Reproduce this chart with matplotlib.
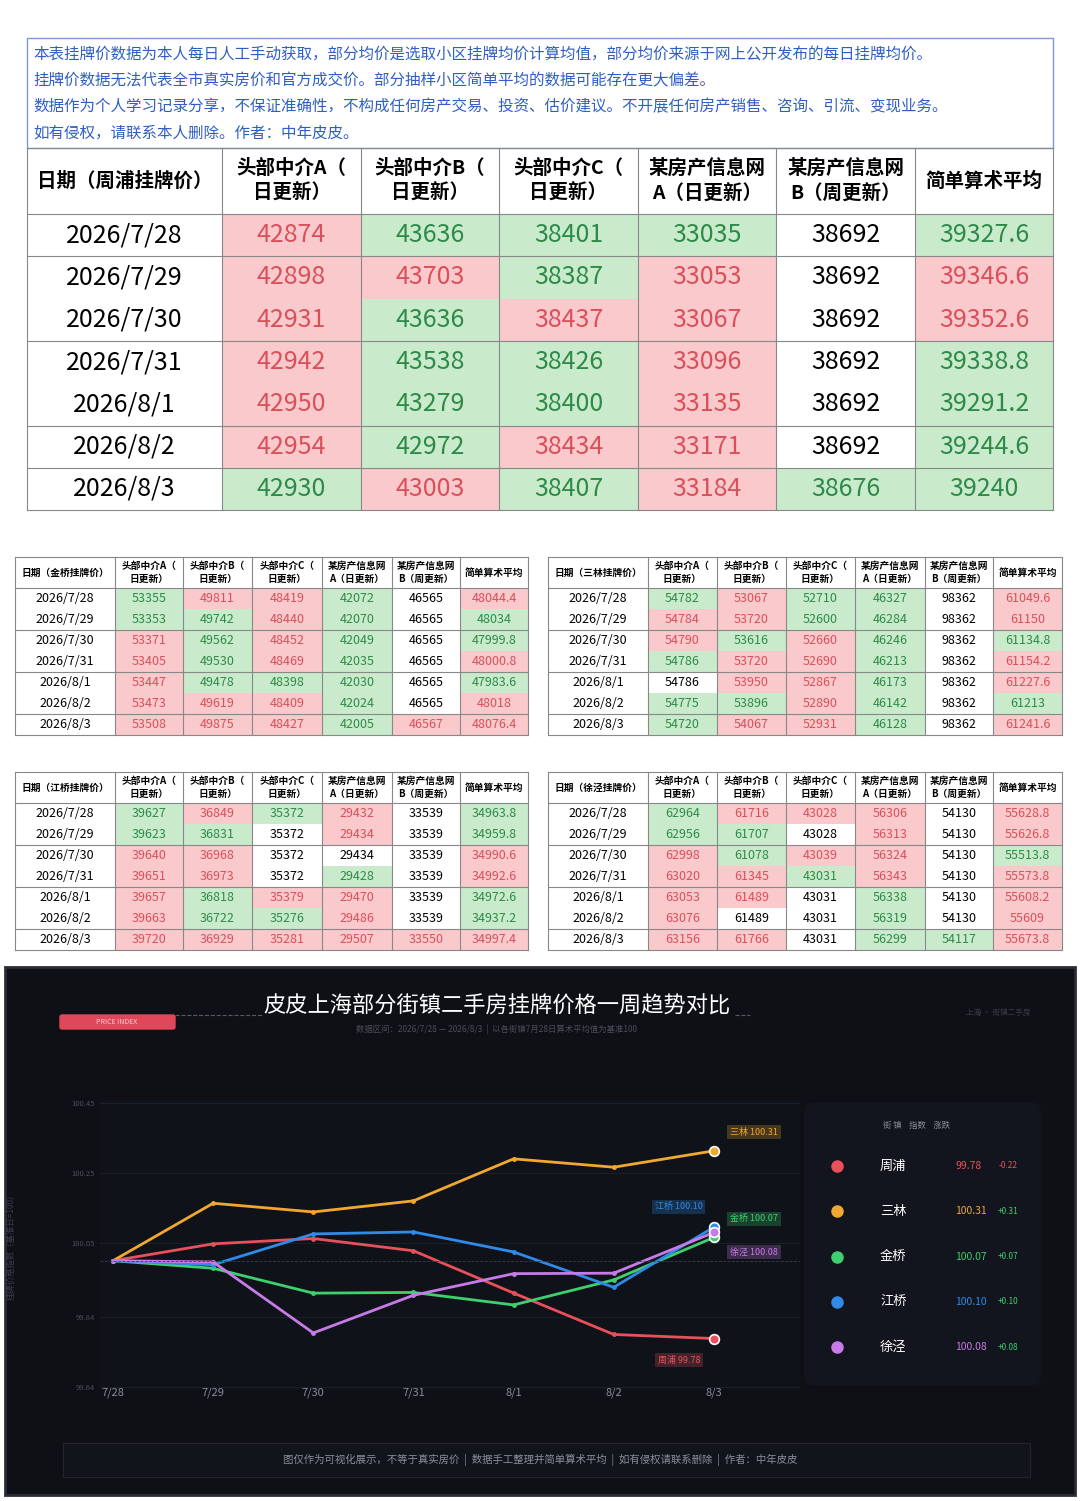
# plot.py
#
# Shanghai listing-price tables and one-week index comparison.

"""
Listing price sheet: draw the note box, the big Zhoupu table, four small
tables for other towns and a dark panel comparing the one-week index of
each town (7/28 simple average = 100).
"""

import numpy as np
import matplotlib.pyplot as plt
import matplotlib.patches as mpatch

plt.rcParams['font.family'] = ['Noto Sans CJK SC', 'DejaVu Sans']

RED_BG, GREEN_BG = '#f9c9cc', '#c9ebcc'
RED_FG, GREEN_FG = '#d9505a', '#2e8a48'

dates = ['2026/7/28', '2026/7/29', '2026/7/30', '2026/7/31',
         '2026/8/1', '2026/8/2', '2026/8/3']
headers = ['头部中介A（\n日更新）', '头部中介B（\n日更新）', '头部中介C（\n日更新）',
           '某房产信息网\nA（日更新）', '某房产信息网\nB（周更新）', '简单算术平均']

towns = {
    '周浦': {'values': [[42874, 43636, 38401, 33035, 38692, '39327.6'],
                      [42898, 43703, 38387, 33053, 38692, '39346.6'],
                      [42931, 43636, 38437, 33067, 38692, '39352.6'],
                      [42942, 43538, 38426, 33096, 38692, '39338.8'],
                      [42950, 43279, 38400, 33135, 38692, '39291.2'],
                      [42954, 42972, 38434, 33171, 38692, '39244.6'],
                      [42930, 43003, 38407, 33184, 38676, '39240']],
           'marks': ['rgggwg', 'rrgrwr', 'rgrrwr', 'rggrwg',
                     'rggrwg', 'rgrrwg', 'grgrgg'],
           'color': '#e8505b'},
    '金桥': {'values': [[53355, 49811, 48419, 42072, 46565, '48044.4'],
                      [53353, 49742, 48440, 42070, 46565, '48034'],
                      [53371, 49562, 48452, 42049, 46565, '47999.8'],
                      [53405, 49530, 48469, 42035, 46565, '48000.8'],
                      [53447, 49478, 48398, 42030, 46565, '47983.6'],
                      [53473, 49619, 48409, 42024, 46565, '48018'],
                      [53508, 49875, 48427, 42005, 46567, '48076.4']],
           'marks': ['grrgwr', 'ggrgwg', 'rgrgwg', 'rgrgwr',
                     'rgggwg', 'rrrgwr', 'rrrgrr'],
           'color': '#3ecf6e'},
    '三林': {'values': [[54782, 53067, 52710, 46327, 98362, '61049.6'],
                      [54784, 53720, 52600, 46284, 98362, '61150'],
                      [54790, 53616, 52660, 46246, 98362, '61134.8'],
                      [54786, 53720, 52690, 46213, 98362, '61154.2'],
                      [54786, 53950, 52867, 46173, 98362, '61227.6'],
                      [54775, 53896, 52890, 46142, 98362, '61213'],
                      [54720, 54067, 52931, 46128, 98362, '61241.6']],
           'marks': ['grggwr', 'rrggwr', 'rgrgwg', 'grrgwr',
                     'wrrgwr', 'ggrgwg', 'grrgwr'],
           'color': '#f0a830'},
    '江桥': {'values': [[39627, 36849, 35372, 29432, 33539, '34963.8'],
                      [39623, 36831, 35372, 29434, 33539, '34959.8'],
                      [39640, 36968, 35372, 29434, 33539, '34990.6'],
                      [39651, 36973, 35372, 29428, 33539, '34992.6'],
                      [39657, 36818, 35379, 29470, 33539, '34972.6'],
                      [39663, 36722, 35276, 29486, 33539, '34937.2'],
                      [39720, 36929, 35281, 29507, 33550, '34997.4']],
           'marks': ['grgrwg', 'ggwrwg', 'rrwwwr', 'rrwgwr',
                     'rgrrwg', 'rggrwg', 'rrrrrr'],
           'color': '#2f8ae8'},
    '徐泾': {'values': [[62964, 61716, 43028, 56306, 54130, '55628.8'],
                      [62956, 61707, 43028, 56313, 54130, '55626.8'],
                      [62998, 61078, 43039, 56324, 54130, '55513.8'],
                      [63020, 61345, 43031, 56343, 54130, '55573.8'],
                      [63053, 61489, 43031, 56338, 54130, '55608.2'],
                      [63076, 61489, 43031, 56319, 54130, '55609'],
                      [63156, 61766, 43031, 56299, 54117, '55673.8']],
           'marks': ['grrrwr', 'ggwrwr', 'rgrrwg', 'rrgrwr',
                     'rrwgwr', 'rwwgwr', 'rrwggr'],
           'color': '#c77be8'},
}

def draw_table(ax, town, cols, top, head_h, row_h, fs, head_fs, lines):
    """ Draw one price table with red/green cell shading.
    """
    data = towns[town]
    for i in range(len(cols) - 1):
        label = '日期（%s挂牌价）' % town if i == 0 else headers[i - 1]
        ax.text((cols[i] + cols[i + 1]) / 2, top + head_h / 2, label,
                ha='center', va='center', fontsize=head_fs, weight='bold',
                linespacing=1.4)
    for r, day in enumerate(dates):
        y = top + head_h + r * row_h
        ax.text((cols[0] + cols[1]) / 2, y + row_h / 2, day, ha='center',
                va='center', fontsize=fs)
        for c, val in enumerate(data['values'][r]):
            m = data['marks'][r][c]
            bg = {'r': RED_BG, 'g': GREEN_BG}.get(m)
            fg = {'r': RED_FG, 'g': GREEN_FG}.get(m, 'black')
            if bg:
                ax.add_patch(mpatch.Rectangle((cols[c + 1], y),
                             cols[c + 2] - cols[c + 1], row_h,
                             color=bg, lw=0))
            ax.text((cols[c + 1] + cols[c + 2]) / 2, y + row_h / 2, str(val),
                    ha='center', va='center', fontsize=fs, color=fg)
    bottom = top + head_h + 7 * row_h
    for x in cols:
        ax.plot([x, x], [top, bottom], color='#888888', lw=0.8)
    for r in [0] + lines + [7]:
        y = top + head_h + r * row_h
        ax.plot([cols[0], cols[-1]], [y, y], color='#888888', lw=0.8)
    ax.plot([cols[0], cols[-1]], [top, top], color='#888888', lw=0.8)

def draw_sheet(ax):
    """ Top part: note box, big table and four small tables.
    """
    ax.add_patch(mpatch.Rectangle((27, 38), 1026, 110, fill=False,
                                  edgecolor='#7a9ad0', lw=1))
    notes = ['本表挂牌价数据为本人每日人工手动获取，部分均价是选取小区挂牌均价计算均值，部分均价来源于网上公开发布的每日挂牌均价。',
             '挂牌价数据无法代表全市真实房价和官方成交价。部分抽样小区简单平均的数据可能存在更大偏差。',
             '数据作为个人学习记录分享，不保证准确性，不构成任何房产交易、投资、估价建议。不开展任何房产销售、咨询、引流、变现业务。',
             '如有侵权，请联系本人删除。作者：中年皮皮。']
    for i, line in enumerate(notes):
        ax.text(33, 55 + i * 26, line, va='center', fontsize=11.2,
                color='#2f5fc4')
    draw_table(ax, '周浦', [27, 222, 361, 499, 638, 776, 915, 1053],
               148, 66, 42.3, 18, 14, [1, 3, 5, 6])
    draw_table(ax, '金桥', [15, 115, 183, 252, 322, 392, 460, 528],
               557, 31, 21, 9, 7, [2, 4, 6])
    draw_table(ax, '三林', [548, 648, 717, 786, 855, 925, 993, 1062],
               557, 31, 21, 9, 7, [2, 4, 6])
    draw_table(ax, '江桥', [15, 115, 183, 252, 322, 392, 460, 528],
               772, 31, 21, 9, 7, [2, 4, 6])
    draw_table(ax, '徐泾', [548, 648, 717, 786, 855, 925, 993, 1062],
               772, 31, 21, 9, 7, [2, 4, 6])

def draw_panel(ax):
    """ Dark panel frame, titles, legend box and footer.
    """
    ax.add_patch(mpatch.Rectangle((5, 967), 1070, 528, color='#0e1016',
                                  ec='#2a2d38', lw=2))
    ax.text(497, 1006, '皮皮上海部分街镇二手房挂牌价格一周趋势对比', ha='center',
            va='center', fontsize=16, color='white')
    ax.plot([175, 262], [1015, 1015], ls='--', color='#555a66', lw=0.8)
    ax.plot([735, 750], [1015, 1015], ls='--', color='#555a66', lw=0.8)
    ax.add_patch(mpatch.FancyBboxPatch((60, 1015), 115, 14,
                 boxstyle='round,pad=0,rounding_size=2', color='#e0475a'))
    ax.text(117, 1022, 'PRICE INDEX', ha='center', va='center', fontsize=5,
            color='#ffd0d5')
    ax.text(497, 1029, '数据区间：2026/7/28 — 2026/8/3  |  以各街镇7月28日算术平均值为基准100',
            ha='center', va='center', fontsize=6, color='#4a4e5a')
    ax.text(998, 1013, '上海 · 街镇二手房', ha='center', va='center',
            fontsize=5.5, color='#3a3e48')
    ax.add_patch(mpatch.FancyBboxPatch((805, 1103), 235, 282,
                 boxstyle='round,pad=0,rounding_size=8', color='#12151d'))
    ax.text(917, 1125, '街 镇    指数    涨跌', ha='center', va='center',
            fontsize=6, color='#8a8e99')
    ax.add_patch(mpatch.Rectangle((63, 1443), 967, 34, color='#11141b',
                                  ec='#22252e', lw=0.8))
    ax.text(540, 1460, '图仅作为可视化展示，不等于真实房价  |  数据手工整理并简单算术平均  |  '
            '如有侵权请联系删除  |  作者：中年皮皮', ha='center', va='center',
            fontsize=7.5, color='#8a8e99')

def draw_index(fig):
    """ Line chart of each town's index, plus legend rows.
    """
    order = ['周浦', '三林', '金桥', '江桥', '徐泾']
    ax = fig.add_axes([100 / 1080, 1 - 1390 / 1501, 700 / 1080, 290 / 1501])
    ax.set_facecolor('#0f1219')
    days = np.arange(7)
    for name in order:
        avg = np.array([float(r[5]) for r in towns[name]['values']])
        index = avg / avg[0] * 100
        towns[name]['index'] = index
        ax.plot(days, index, color=towns[name]['color'], lw=2, marker='o',
                markersize=2.5)
        ax.plot(days[-1], index[-1], 'o', color=towns[name]['color'],
                markersize=7, markeredgecolor='white', markeredgewidth=1.2)
    offsets = {'三林': (6.4, 100.368), '江桥': (5.65, 100.154),
               '金桥': (6.4, 100.12), '徐泾': (6.4, 100.025),
               '周浦': (5.65, 99.716)}
    for name, (x, y) in offsets.items():
        c = towns[name]['color']
        ax.text(x, y, '%s %.2f' % (name, towns[name]['index'][-1]), ha='center',
                va='center', fontsize=6.5, color=c,
                bbox=dict(boxstyle='square,pad=0.3', fc=c, alpha=0.25, lw=0))
    ax.axhline(100, color='#3a3e48', ls='--', lw=0.6)
    ax.set_xlim(-0.13, 6.86)
    ax.set_ylim(99.63, 100.46)
    ax.set_yticks([99.64, 99.84, 100.05, 100.25, 100.45])
    ax.set_yticklabels(['99.64', '99.84', '100.05', '100.25', '100.45'])
    ax.set_xticks(days)
    ax.set_xticklabels(['7/28', '7/29', '7/30', '7/31', '8/1', '8/2', '8/3'])
    ax.tick_params(axis='y', colors='#4a4e5a', labelsize=5.5, length=0)
    ax.tick_params(axis='x', colors='#8a8e99', labelsize=8, length=0, pad=-2)
    ax.grid(axis='y', color='#1e222b', lw=0.6)
    for s in ax.spines.values():
        s.set_visible(False)
    ax.set_ylabel('挂牌价格指数（基准日=100）', color='#3a3e48', fontsize=6,
                  labelpad=-2)
    ax.yaxis.set_label_coords(-0.12, 0.5)
    return order

fig = plt.figure(figsize=(10.8, 15.01), dpi=100)
bg = fig.add_axes([0, 0, 1, 1])
bg.set_xlim(0, 1080)
bg.set_ylim(1501, 0)
bg.axis('off')
draw_sheet(bg)
draw_panel(bg)
order = draw_index(fig)
for i, name in enumerate(order):
    y = 1166 + i * 45.3
    idx = towns[name]['index'][-1]
    c = towns[name]['color']
    bg.plot(837, y, 'o', color=c, markersize=8)
    bg.text(880, y, name, va='center', fontsize=9.5, color='white')
    bg.text(955, y, '%.2f' % idx, va='center', fontsize=7.5, color=c)
    bg.text(1018, y, '%+.2f' % (idx - 100), va='center', ha='right',
            fontsize=6, color='#e8505b' if idx < 100 else '#3ecf6e')
plt.savefig('out.png')
